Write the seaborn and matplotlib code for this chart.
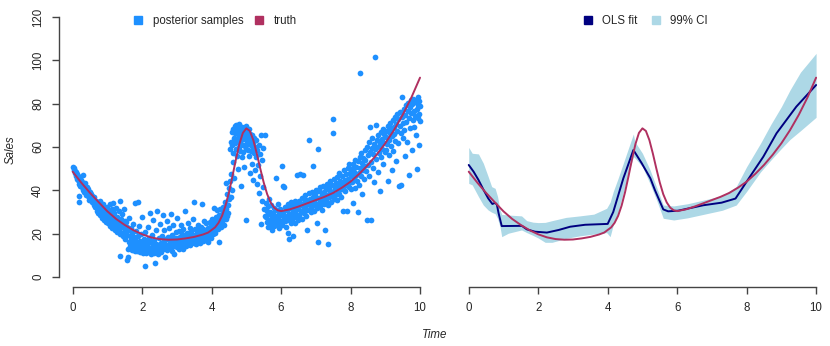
import matplotlib
matplotlib.use("Agg")
import matplotlib.pyplot as plt
from matplotlib.lines import Line2D
import seaborn as sns
import pandas as pd

# values
truth_time = [0, 0.25, 0.5, 0.75, 1.0, 1.25, 1.5, 1.75, 2.0, 2.25, 2.5, 2.75, 3.0, 3.25, 3.5, 3.75,
              3.9, 4.0, 4.1, 4.2, 4.3, 4.4, 4.5, 4.6, 4.7, 4.8, 4.9, 5.0, 5.1, 5.2, 5.3, 5.4, 5.5,
              5.6, 5.7, 5.8, 5.9, 6.0, 6.25, 6.5, 6.75, 7.0, 7.25, 7.5, 7.75, 8.0, 8.25, 8.5, 8.75,
              9.0, 9.25, 9.5, 9.75, 10.0]
truth_sales = [48.6, 43.5, 38.8, 34.5, 30.3, 26.8, 24.0, 21.6, 19.7, 18.3, 17.5, 17.2, 17.3, 17.8, 18.5, 19.6,
               20.5, 21.7, 22.9, 25.0, 28.2, 32.9, 39.1, 46.5, 54.3, 61.4, 66.5, 68.6, 67.4, 63.2, 57.0, 50.1, 43.6,
               38.2, 34.4, 32.0, 30.8, 30.4, 31.2, 32.5, 34.0, 35.5, 37.0, 38.8, 41.2, 44.0, 47.6, 51.7, 56.4,
               61.7, 67.8, 74.8, 82.8, 92.0]

ols_time = [0, 0.14, 0.28, 0.43, 0.56, 0.68, 0.76, 0.81, 0.86, 0.95, 1.53, 1.67, 1.91, 2.25, 2.59, 2.92,
            3.35, 4.0, 4.16, 4.45, 4.74, 4.98, 5.23, 5.36, 5.6, 5.74, 6.03, 6.75, 7.28, 7.68, 8.0, 8.48,
            8.86, 9.43, 10.0]
ols_sales = [51.7, 48.6, 44.8, 40.1, 36.3, 33.7, 34.2, 33.4, 29.4, 23.5, 23.6, 22.0, 20.9, 20.5, 21.7, 23.2,
             24.1, 24.5, 30.0, 45.5, 58.6, 52.5, 45.5, 40.1, 31.2, 30.3, 30.6, 33.1, 34.3, 36.2, 44.0, 55.5,
             66.3, 78.6, 88.6]

ci_time = [0, 0.1, 0.28, 0.42, 0.56, 0.66, 0.76, 0.83, 0.9, 0.95, 1.14, 1.52, 1.67, 1.85, 2.0, 2.2,
           2.4, 2.8, 3.2, 3.6, 3.97, 4.07, 4.16, 4.3, 4.45, 4.6, 4.74, 4.78, 5.0, 5.22, 5.42, 5.6,
           5.9, 6.3, 6.9, 7.3, 7.7, 8.0, 8.4, 8.7, 9.0, 9.25, 9.55, 10.0]
ci_upper = [59.8, 57.1, 56.8, 52.5, 46.3, 41.7, 40.9, 37.1, 30.9, 28.9, 28.6, 28.2, 26.0, 25.3, 25.1, 25.2,
            26.0, 27.5, 28.2, 29.0, 31.7, 34.5, 39.4, 45.5, 52.5, 59.5, 66.0, 62.5, 57.1, 49.4, 40.9, 33.2,
            32.8, 33.8, 36.0, 37.5, 41.7, 50.9, 61.7, 70.5, 78.6, 86.3, 94.5, 103.2]
ci_lower = [43.2, 42.5, 37.1, 33.2, 30.9, 29.9, 29.2, 27.0, 23.2, 18.6, 20.2, 21.7, 20.5, 19.2, 18.0, 16.0,
            16.0, 17.8, 19.0, 19.8, 20.5, 18.6, 24.0, 30.0, 39.0, 48.0, 55.5, 55.0, 50.9, 43.0, 35.0, 27.1,
            26.3, 27.3, 29.4, 30.8, 33.2, 39.5, 48.5, 54.0, 59.3, 63.5, 67.5, 73.7]

posterior_samples = [
    (0.02, 50.8), (0.03, 49.5), (0.05, 50.2), (0.06, 47.8), (0.08, 49.0), (0.09, 46.5), (0.10, 48.3), (0.12, 47.6),
    (0.13, 45.2), (0.15, 46.8), (0.16, 44.9), (0.18, 46.1), (0.19, 43.0), (0.20, 45.3), (0.22, 42.2), (0.23, 44.6),
    (0.25, 43.1), (0.26, 41.5), (0.28, 43.8), (0.29, 40.2), (0.30, 47.0), (0.31, 42.5), (0.33, 41.0), (0.34, 39.3),
    (0.35, 43.2), (0.37, 40.4), (0.38, 38.0), (0.40, 41.6), (0.41, 39.8), (0.43, 37.2), (0.44, 40.5), (0.46, 38.6),
    (0.47, 35.4), (0.49, 39.1), (0.50, 37.0), (0.52, 36.1), (0.53, 38.4), (0.55, 34.8), (0.56, 37.5), (0.58, 35.6),
    (0.60, 33.2), (0.61, 36.8), (0.63, 34.3), (0.64, 32.1), (0.66, 35.2), (0.68, 33.0), (0.69, 30.6), (0.71, 34.0),
    (0.72, 31.8), (0.74, 29.5), (0.76, 33.4), (0.77, 30.9), (0.79, 28.6), (0.80, 35.0), (0.82, 32.1), (0.83, 29.7),
    (0.85, 27.4), (0.87, 31.0), (0.88, 33.8), (0.90, 28.3), (0.91, 26.5), (0.93, 30.2), (0.95, 27.8), (0.96, 25.6),
    (0.98, 29.4), (0.99, 32.5), (0.18, 34.8), (0.19, 37.3),
    (1.01, 28.0), (1.02, 24.8), (1.04, 30.6), (1.05, 26.9), (1.07, 33.5), (1.08, 23.6), (1.10, 28.7), (1.11, 25.9),
    (1.13, 31.4), (1.14, 22.7), (1.16, 27.3), (1.17, 34.2), (1.19, 24.4), (1.20, 29.5), (1.22, 21.8), (1.23, 26.1),
    (1.25, 32.0), (1.26, 23.3), (1.28, 27.8), (1.29, 20.6), (1.31, 25.0), (1.32, 30.3), (1.34, 22.1), (1.35, 34.9),
    (1.36, 9.7), (1.37, 19.9), (1.38, 26.6), (1.40, 23.0), (1.41, 28.9), (1.43, 20.2), (1.44, 24.7), (1.46, 18.8),
    (1.47, 31.2), (1.49, 22.4), (1.50, 26.0),
    (1.51, 21.2), (1.52, 17.6), (1.53, 25.3), (1.55, 7.7), (1.55, 19.4), (1.56, 23.0), (1.58, 9.2), (1.58, 13.1),
    (1.59, 21.8), (1.61, 16.2), (1.62, 27.0), (1.64, 18.7), (1.65, 14.5), (1.67, 22.5), (1.68, 17.1), (1.70, 12.6),
    (1.71, 20.3), (1.73, 15.7), (1.74, 24.6), (1.76, 13.9), (1.77, 18.4), (1.79, 11.8), (1.80, 34.3), (1.81, 16.5),
    (1.83, 21.0), (1.84, 14.1), (1.86, 12.2), (1.87, 34.4), (1.88, 18.9), (1.90, 15.3), (1.91, 23.7), (1.93, 11.4),
    (1.94, 16.8), (1.96, 13.5), (1.97, 19.8), (1.99, 12.9), (2.00, 27.7), (2.02, 15.0), (2.03, 11.1), (2.05, 17.7),
    (2.06, 13.2), (2.07, 5.2), (2.08, 20.8), (2.10, 14.3), (2.11, 10.9), (2.13, 16.3), (2.14, 12.4), (2.16, 22.9),
    (2.17, 15.6), (2.19, 11.7), (2.20, 18.2), (2.22, 13.6), (2.23, 29.4), (2.25, 10.6), (2.26, 16.0), (2.28, 12.0),
    (2.29, 19.5), (2.31, 14.6), (2.32, 26.4), (2.34, 11.3), (2.35, 17.3), (2.37, 13.0), (2.38, 6.3), (2.40, 15.2),
    (2.41, 21.5), (2.43, 12.3), (2.44, 30.4), (2.46, 14.8), (2.47, 10.4), (2.49, 17.9),
    (2.50, 13.4), (2.52, 24.5), (2.53, 15.9), (2.55, 11.6), (2.56, 19.0), (2.58, 14.2), (2.59, 28.5), (2.61, 12.8),
    (2.62, 16.6), (2.64, 21.9), (2.65, 13.7), (2.67, 9.1), (2.68, 17.5), (2.70, 14.9), (2.71, 25.8), (2.73, 12.5),
    (2.74, 18.6), (2.76, 15.4), (2.77, 22.6), (2.79, 13.3), (2.80, 16.9), (2.82, 29.0), (2.83, 14.0), (2.85, 19.3),
    (2.86, 12.1), (2.88, 17.0), (2.89, 23.8), (2.91, 15.1), (2.92, 10.5), (2.94, 18.1), (2.95, 14.4), (2.97, 20.6),
    (2.98, 16.4), (3.00, 13.8), (3.01, 27.1), (3.03, 17.8), (3.04, 15.5), (3.06, 21.4), (3.07, 13.1), (3.09, 18.5),
    (3.10, 16.1), (3.12, 24.2), (3.13, 14.7), (3.15, 19.7), (3.16, 17.2), (3.18, 12.9), (3.19, 22.0), (3.21, 15.8),
    (3.22, 18.8), (3.24, 30.5), (3.25, 16.7), (3.27, 14.1), (3.28, 20.1), (3.30, 17.4), (3.31, 25.1), (3.33, 15.3),
    (3.34, 19.2), (3.36, 16.9), (3.37, 22.8), (3.39, 14.6), (3.40, 18.3), (3.42, 20.9), (3.43, 16.2), (3.45, 26.6),
    (3.46, 17.6), (3.48, 34.8), (3.49, 15.7), (3.51, 19.6), (3.52, 22.3), (3.54, 17.0), (3.55, 15.2), (3.57, 20.4),
    (3.58, 18.0), (3.60, 24.0), (3.61, 16.5), (3.63, 19.0), (3.64, 21.6), (3.66, 17.7), (3.67, 15.9), (3.69, 23.3),
    (3.70, 18.7), (3.72, 33.7), (3.73, 20.0), (3.75, 16.8), (3.76, 22.1), (3.78, 18.2), (3.79, 26.0), (3.81, 19.4),
    (3.82, 17.3), (3.84, 21.2), (3.85, 24.8), (3.87, 18.5), (3.88, 20.5), (3.90, 16.3), (3.91, 22.7), (3.93, 19.1),
    (3.94, 25.5), (3.96, 20.8), (3.97, 18.0), (3.99, 23.6),
    (4.01, 21.0), (4.02, 26.8), (4.04, 19.9), (4.05, 23.4), (4.07, 31.8), (4.08, 21.9), (4.10, 25.2), (4.11, 20.4),
    (4.13, 27.5), (4.14, 23.0), (4.16, 30.9), (4.17, 22.3), (4.19, 25.9), (4.20, 28.4), (4.22, 16.3), (4.23, 24.1),
    (4.25, 31.2), (4.26, 26.6), (4.28, 22.9), (4.29, 29.3), (4.31, 25.3), (4.32, 32.1), (4.34, 27.6), (4.35, 24.0),
    (4.37, 30.0), (4.38, 34.8), (4.40, 26.9), (4.41, 43.6), (4.42, 31.5), (4.44, 28.2), (4.45, 38.5), (4.47, 33.4),
    (4.48, 29.6), (4.50, 41.0), (4.50, 35.8),
    (4.52, 44.2), (4.53, 58.9), (4.55, 36.9), (4.56, 62.4), (4.57, 47.5), (4.58, 66.8), (4.59, 40.3), (4.60, 60.7),
    (4.61, 53.1), (4.62, 68.2), (4.63, 57.4), (4.64, 64.0), (4.65, 45.9), (4.66, 69.5), (4.67, 61.8), (4.68, 66.3),
    (4.69, 59.2), (4.70, 63.7), (4.71, 70.1), (4.72, 56.0), (4.73, 67.4), (4.74, 62.6), (4.75, 65.8), (4.76, 49.7),
    (4.77, 68.9), (4.78, 60.1), (4.79, 64.9), (4.80, 70.6), (4.81, 58.3), (4.82, 66.0), (4.83, 62.0), (4.84, 42.0),
    (4.85, 67.7), (4.86, 63.3), (4.87, 55.2), (4.88, 69.0), (4.89, 61.1), (4.90, 65.3), (4.91, 57.9), (4.92, 68.5),
    (4.93, 64.2), (4.94, 50.6), (4.95, 66.7), (4.96, 60.4), (4.97, 63.9), (4.98, 69.8), (4.99, 59.0), (5.00, 26.3),
    (5.01, 65.0), (5.02, 62.3), (5.03, 67.1), (5.04, 58.6), (5.05, 64.4), (5.06, 61.5), (5.07, 68.1), (5.08, 55.8),
    (5.09, 63.0), (5.10, 66.2), (5.11, 47.8), (5.12, 60.8), (5.13, 64.7), (5.14, 58.1), (5.15, 62.9), (5.16, 52.3),
    (5.17, 65.6), (5.18, 59.7), (5.19, 44.9), (5.20, 61.9), (5.22, 57.3), (5.23, 64.1), (5.25, 49.5), (5.26, 60.2),
    (5.28, 55.4), (5.29, 63.2), (5.31, 42.8), (5.32, 58.8), (5.34, 51.8), (5.35, 61.0), (5.37, 38.6), (5.38, 56.7),
    (5.40, 46.6), (5.41, 65.3), (5.43, 24.5), (5.44, 53.9), (5.46, 35.2), (5.47, 59.6), (5.49, 41.3), (5.50, 31.4),
    (5.55, 65.5), (5.53, 28.2),
    (5.56, 34.0), (5.57, 27.5), (5.59, 30.6), (5.60, 25.2), (5.62, 32.8), (5.63, 22.9), (5.65, 28.9), (5.66, 36.1),
    (5.68, 26.3), (5.69, 30.0), (5.71, 24.1), (5.72, 33.3), (5.74, 27.7), (5.75, 21.6), (5.77, 29.6), (5.78, 25.9),
    (5.80, 31.7), (5.81, 23.5), (5.83, 28.1), (5.84, 45.7), (5.86, 26.8), (5.87, 30.9), (5.89, 24.6), (5.90, 33.9),
    (5.92, 27.2), (5.93, 22.4), (5.95, 29.3), (5.96, 26.0), (5.98, 31.2), (5.99, 25.4), (6.01, 28.6), (6.02, 51.4),
    (6.03, 23.9), (6.05, 42.0), (6.06, 30.2), (6.08, 27.0), (6.09, 41.3), (6.11, 25.7), (6.12, 32.4), (6.14, 28.3),
    (6.15, 23.2), (6.17, 30.7), (6.18, 26.5), (6.20, 33.6), (6.21, 20.2), (6.22, 17.4), (6.23, 29.0), (6.25, 27.3),
    (6.26, 31.9), (6.28, 24.8), (6.29, 34.7), (6.31, 29.5), (6.32, 26.2), (6.34, 32.6), (6.35, 18.9), (6.37, 30.3),
    (6.38, 27.9), (6.40, 35.2), (6.41, 25.1), (6.43, 31.1), (6.44, 28.7), (6.46, 33.0), (6.47, 46.9), (6.49, 26.4),
    (6.50, 31.8), (6.52, 28.4), (6.53, 34.9), (6.55, 47.5), (6.56, 30.1), (6.58, 33.2), (6.59, 26.9), (6.61, 36.4),
    (6.62, 31.0), (6.64, 47.0), (6.65, 29.4), (6.67, 34.0), (6.68, 37.8), (6.70, 32.3), (6.71, 28.0), (6.73, 35.5),
    (6.74, 30.7), (6.76, 21.7), (6.77, 33.8), (6.79, 63.2), (6.80, 38.6), (6.82, 31.6), (6.83, 36.2), (6.85, 29.8),
    (6.86, 34.5), (6.88, 39.1), (6.89, 32.7), (6.91, 36.9), (6.93, 51.4), (6.94, 30.4), (6.96, 35.1), (6.97, 38.3),
    (6.99, 33.3), (7.00, 40.2), (7.02, 31.9), (7.03, 24.8), (7.05, 59.0), (7.05, 16.0), (7.06, 36.6), (7.08, 34.2),
    (7.09, 39.7), (7.11, 32.8), (7.12, 41.4), (7.14, 37.0), (7.15, 34.6), (7.17, 38.9), (7.18, 30.9), (7.20, 42.1),
    (7.21, 36.0), (7.23, 39.4), (7.24, 33.7), (7.26, 21.7), (7.27, 37.6), (7.29, 40.8), (7.30, 35.3), (7.32, 43.0),
    (7.33, 38.0), (7.35, 33.1), (7.36, 15.4), (7.38, 41.2), (7.39, 36.7), (7.41, 39.8), (7.42, 44.1), (7.44, 37.3),
    (7.45, 34.4), (7.47, 42.6), (7.48, 39.0), (7.50, 72.8), (7.50, 66.3), (7.51, 36.2), (7.53, 45.0), (7.54, 40.4),
    (7.56, 37.9), (7.57, 43.5), (7.59, 41.0), (7.60, 35.6), (7.62, 46.2), (7.63, 39.3), (7.65, 42.9), (7.66, 38.4),
    (7.68, 48.0), (7.69, 41.7), (7.71, 44.4), (7.72, 37.0), (7.74, 40.6), (7.75, 46.8), (7.77, 43.3), (7.78, 30.6),
    (7.80, 41.9), (7.81, 49.2), (7.83, 44.8), (7.84, 39.6), (7.86, 47.3), (7.87, 42.3), (7.89, 30.3), (7.90, 43.2),
    (7.92, 50.1), (7.93, 45.4), (7.95, 52.3), (7.96, 41.5), (7.98, 47.9), (7.99, 44.0),
    (8.01, 46.6), (8.02, 40.7), (8.04, 49.8), (8.05, 43.7), (8.07, 34.0), (8.08, 52.0), (8.10, 45.9), (8.11, 48.5),
    (8.13, 41.1), (8.14, 54.2), (8.16, 47.2), (8.17, 50.9), (8.19, 44.3), (8.20, 30.2), (8.22, 53.3), (8.23, 48.0),
    (8.25, 42.6), (8.26, 55.6), (8.27, 94.0), (8.28, 50.3), (8.29, 46.4), (8.31, 57.1), (8.32, 52.7), (8.34, 38.2),
    (8.35, 49.4), (8.37, 55.0), (8.38, 51.2), (8.40, 45.1), (8.41, 58.4), (8.43, 53.8), (8.44, 48.9), (8.46, 60.2),
    (8.47, 26.3), (8.49, 56.3), (8.50, 51.6), (8.52, 62.1), (8.53, 46.8), (8.55, 69.4), (8.56, 57.7), (8.58, 53.1),
    (8.59, 26.3), (8.61, 59.5), (8.62, 64.0), (8.64, 50.2), (8.65, 56.9), (8.67, 61.4), (8.68, 43.9), (8.69, 101.7),
    (8.70, 58.9), (8.72, 70.0), (8.73, 54.5), (8.75, 63.1), (8.76, 60.0), (8.78, 48.3), (8.79, 65.7), (8.81, 57.4),
    (8.82, 62.6), (8.84, 39.7), (8.85, 60.8), (8.87, 66.9), (8.88, 55.3), (8.90, 63.8), (8.91, 59.1), (8.93, 68.2),
    (8.94, 52.0), (8.96, 61.9), (8.97, 66.0), (8.99, 57.6),
    (9.01, 64.6), (9.02, 58.7), (9.04, 67.5), (9.05, 61.2), (9.07, 44.5), (9.08, 69.8), (9.10, 63.4), (9.11, 56.2),
    (9.13, 66.4), (9.14, 71.0), (9.16, 60.5), (9.17, 68.6), (9.19, 49.3), (9.20, 64.9), (9.22, 72.4), (9.23, 58.0),
    (9.25, 69.1), (9.26, 66.0), (9.28, 62.7), (9.29, 74.0), (9.31, 53.5), (9.32, 70.5), (9.34, 67.2), (9.35, 75.3),
    (9.37, 61.8), (9.38, 72.9), (9.40, 41.8), (9.41, 69.7), (9.43, 76.1), (9.44, 42.5), (9.46, 66.3), (9.47, 73.8),
    (9.48, 83.2), (9.50, 70.9), (9.52, 64.1), (9.53, 77.5), (9.55, 68.0), (9.56, 55.9), (9.58, 74.6), (9.59, 79.2),
    (9.61, 71.7), (9.62, 62.3), (9.64, 76.8), (9.65, 80.1), (9.67, 47.0), (9.68, 73.2), (9.70, 78.4), (9.71, 68.9),
    (9.73, 81.5), (9.74, 75.9), (9.76, 58.5), (9.77, 79.8), (9.79, 72.6), (9.80, 82.3), (9.82, 76.4), (9.83, 69.3),
    (9.85, 80.6), (9.86, 74.2), (9.88, 65.4), (9.89, 81.9), (9.90, 50.0), (9.91, 77.7), (9.93, 83.0), (9.94, 73.5),
    (9.95, 79.6), (9.96, 60.8), (9.97, 81.1), (9.98, 75.2), (9.99, 78.9), (10.00, 72.0),
]

x_ticks = [0, 2, 4, 6, 8, 10]
y_ticks = [0, 20, 40, 60, 80, 100, 120]

BLUE = "#1E90FF"
MAROON = "#B03060"
NAVY = "#000080"
LIGHT = "#ADD8E6"
AXCOL = "#444444"

sns.set_style("white")
plt.rcParams["font.family"] = ["Liberation Sans", "DejaVu Sans"]
plt.rcParams["font.size"] = 8.3

fig = plt.figure(figsize=(8.3, 3.46), dpi=100)
ax1 = fig.add_axes([0.0708, 0.1694, 0.452, 0.8116])
ax2 = fig.add_axes([0.548, 0.1694, 0.452, 0.8116])

samples = pd.DataFrame(posterior_samples, columns=["Time", "Sales"])
sns.scatterplot(data=samples, x="Time", y="Sales", ax=ax1, color=BLUE, s=17,
                linewidth=0, legend=False)
sns.lineplot(x=truth_time, y=truth_sales, ax=ax1, color=MAROON, lw=1.4,
             sort=False, estimator=None)

ax2.fill_between(ci_time, ci_lower, ci_upper, color=LIGHT, lw=0)
sns.lineplot(x=ols_time, y=ols_sales, ax=ax2, color=NAVY, lw=1.4,
             sort=False, estimator=None)
sns.lineplot(x=truth_time, y=truth_sales, ax=ax2, color=MAROON, lw=1.4,
             sort=False, estimator=None)

for ax in (ax1, ax2):
    ax.set_xlim(-0.4, 10.4)
    ax.set_ylim(-4.8, 124.8)
    ax.set_xlabel("")
    ax.set_ylabel("")
    ax.set_xticks(x_ticks)
    ax.spines["top"].set_visible(False)
    ax.spines["right"].set_visible(False)
    ax.spines["bottom"].set_bounds(0, 10)
    ax.spines["bottom"].set_color(AXCOL)
    ax.spines["bottom"].set_linewidth(1.0)
    ax.tick_params(axis="x", direction="out", length=5, width=1.0, color=AXCOL,
                   pad=5.5, labelsize=8.3, bottom=True)

ax1.set_yticks(y_ticks)
ax1.spines["left"].set_bounds(0, 120)
ax1.spines["left"].set_color(AXCOL)
ax1.spines["left"].set_linewidth(1.0)
ax1.tick_params(axis="y", direction="out", length=5, width=1.0, color=AXCOL,
                pad=5.5, labelsize=8.3, left=True, labelrotation=90)
for lab in ax1.get_yticklabels():
    lab.set_va("center")

ax2.spines["left"].set_visible(False)
ax2.set_yticks([])

leg1 = ax1.legend(
    handles=[Line2D([], [], ls="none", marker="s", ms=6.3, color=BLUE, mec=BLUE),
             Line2D([], [], ls="none", marker="s", ms=6.3, color=MAROON, mec=MAROON)],
    labels=["posterior samples", "truth"], loc="center left",
    bbox_to_anchor=(133.4 / 830, 1 - 21 / 346), bbox_transform=fig.transFigure,
    ncol=2, frameon=False, handlelength=0.8, handletextpad=0.88,
    columnspacing=0.92, borderpad=0, borderaxespad=0, fontsize=8.3)

leg2 = ax2.legend(
    handles=[Line2D([], [], ls="none", marker="s", ms=6.3, color=NAVY, mec=NAVY),
             Line2D([], [], ls="none", marker="s", ms=6.3, color=LIGHT, mec=LIGHT)],
    labels=["OLS fit", "99% CI"], loc="center left",
    bbox_to_anchor=(583.0 / 830, 1 - 21 / 346), bbox_transform=fig.transFigure,
    ncol=2, frameon=False, handlelength=0.8, handletextpad=0.88,
    columnspacing=1.16, borderpad=0, borderaxespad=0, fontsize=8.3)

fig.text(11 / 830, 1 - 150 / 346, "Sales", rotation=90, style="italic",
         ha="center", va="center", fontsize=8.3)
fig.text(435 / 830, 1 - 335.5 / 346, "Time", style="italic",
         ha="center", va="center", fontsize=8.3)

fig.savefig("out.png", dpi=100)
